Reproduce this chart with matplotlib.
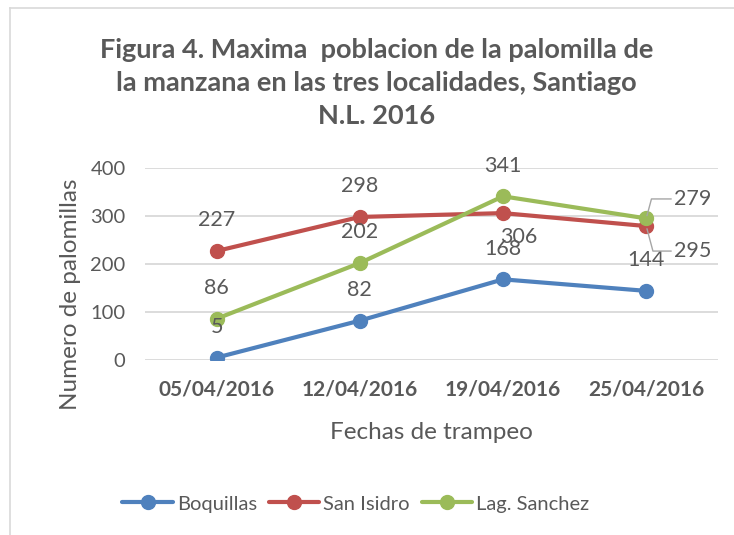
import numpy as np
import matplotlib.pyplot as plt
from matplotlib.lines import Line2D

plt.rcParams['font.family'] = ['Lato', 'DejaVu Sans']

# DATOS
fechas = ["05/04/2016", "12/04/2016", "19/04/2016", "25/04/2016"]
boquillas = [5, 82, 168, 144]
san_isidro = [227, 298, 306, 279]
lag_sanchez = [86, 202, 341, 295]

series = [("Boquillas", boquillas, "#4F81BD"),
          ("San Isidro", san_isidro, "#C0504D"),
          ("Lag. Sanchez", lag_sanchez, "#9BBB59")]

gris = "#595959"

fig = plt.figure(figsize=(7.34, 5.35), dpi=100)
ax = fig.add_axes([0.1975, 0.3271, 0.7805, 0.3589])

x = np.arange(len(fechas))
for nombre, vals, color in series:
    ax.plot(x, vals, color=color, lw=3, marker="o", ms=10, label=nombre,
            solid_capstyle="round", zorder=3)

# ETIQUETAS DE DATOS (arriba del punto, como Excel)
for nombre, vals, color in series:
    for i, v in enumerate(vals):
        if i == 3 and nombre != "Boquillas":
            continue
        if nombre == "San Isidro" and i == 2:
            ax.annotate(str(v), (x[i], v), xytext=(11, -17), textcoords="offset points",
                        ha="center", va="center", fontsize=15.5, color=gris)
            continue
        ax.annotate(str(v), (x[i], v), xytext=(0, 22), textcoords="offset points",
                    ha="center", va="center", fontsize=15.5, color=gris)

# ETIQUETAS CON LINEAS GUIA (25/04)
ax.annotate(str(san_isidro[3]), (x[3], lag_sanchez[3]), xytext=(20, 14), textcoords="offset points",
            ha="left", va="center", fontsize=15.5, color=gris,
            arrowprops=dict(arrowstyle="-", color="#A6A6A6", lw=1, shrinkA=0, shrinkB=2,
                            connectionstyle="angle,angleA=0,angleB=75,rad=0"))
ax.annotate(str(lag_sanchez[3]), (x[3], san_isidro[3]), xytext=(20, -18), textcoords="offset points",
            ha="left", va="center", fontsize=15.5, color=gris,
            arrowprops=dict(arrowstyle="-", color="#A6A6A6", lw=1, shrinkA=0, shrinkB=2,
                            connectionstyle="angle,angleA=0,angleB=-75,rad=0"))

ax.set_xlim(-0.5, 3.5)
ax.set_ylim(0, 400)
ax.set_yticks([0, 100, 200, 300, 400])
ax.set_xticks(x)
ax.set_xticklabels(fechas, fontweight="bold", fontsize=15, color=gris)
ax.tick_params(axis="y", labelsize=14.5, labelcolor=gris, length=0, pad=14)
ax.tick_params(axis="x", length=0, pad=14)
ax.grid(axis="y", color="#D9D9D9", lw=1.3, zorder=0)
for s in ax.spines.values():
    s.set_visible(False)

ax.set_ylabel("Numero de palomillas", fontsize=17.5, color=gris)
ax.yaxis.set_label_coords(-0.112, 0.34)
ax.set_xlabel("Fechas de trampeo", fontsize=17.5, color=gris, labelpad=16)

fig.text(0.513, 0.845, "Figura 4. Maxima  poblacion de la palomilla de\nla manzana en las tres localidades, Santiago\nN.L. 2016",
         ha="center", va="center", fontsize=19.5, fontweight="bold", color=gris, linespacing=1.45)

ax.legend(loc="center", bbox_to_anchor=(0.485, 0.058), bbox_transform=fig.transFigure, ncol=3,
          frameon=False, fontsize=14.5, labelcolor=gris, handlelength=2.5, handletextpad=0.2,
          columnspacing=0.6)

# BORDE DEL GRAFICO
fig.add_artist(Line2D([10/734, 10/734], [0, 1 - 8/535], color="#D9D9D9", lw=1.2))
fig.add_artist(Line2D([10/734, 1], [1 - 8/535, 1 - 8/535], color="#D9D9D9", lw=1.2))

fig.savefig("out.png", dpi=100)
